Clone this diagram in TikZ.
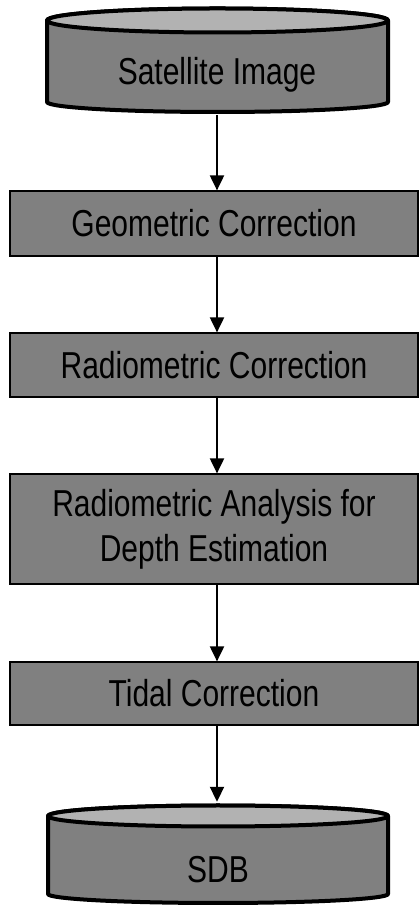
\documentclass[tikz,border=0pt]{standalone}
\usepackage{fontspec}
\setmainfont[FakeStretch=0.8]{Liberation Sans}
\usetikzlibrary{arrows.meta}
\definecolor{bodygray}{RGB}{128,128,128}
\definecolor{lidgray}{RGB}{178,178,178}

\begin{document}
\begin{tikzpicture}[x=1pt,y=1pt,
  every node/.style={font=\fontsize{37.5}{45}\selectfont,inner sep=0pt},
  stepbox/.style={draw=black,line width=1.2pt,fill=bodygray,minimum width=408pt,align=center},
  drum/.style={draw=black,line width=4pt,line join=round},
  arr/.style={line width=2pt,-{Triangle[width=14pt,length=15pt]}}]

\useasboundingbox (0,0) rectangle (419,907);

% top drum
\filldraw[drum,fill=bodygray](47,886.5)--(47,805)arc[start angle=180,end angle=360,x radius=170.5,y radius=10]--(388,886.5)arc[start angle=0,end angle=180,x radius=170.5,y radius=12]--cycle;
\draw[drum,fill=lidgray](217.5,886.5)ellipse[x radius=170.5,y radius=12];

% bottom drum
\filldraw[drum,fill=bodygray](48,91)--(48,13)arc[start angle=180,end angle=360,x radius=170,y radius=9]--(388,91)arc[start angle=0,end angle=180,x radius=170,y radius=10.5]--cycle;
\draw[drum,fill=lidgray](218,91)ellipse[x radius=170,y radius=10.5];

\node[minimum width=341pt,minimum height=80pt](sat) at (217,832) {Satellite Image};
\node[stepbox,minimum height=65pt](geo) at (214,683.5) {Geometric Correction};
\node[stepbox,minimum height=64pt](rad) at (214,542) {Radiometric Correction};
\node[stepbox,minimum height=110pt](ana) at (214,378) {Radiometric Analysis for\\Depth Estimation};
\node[stepbox,minimum height=63pt](tid) at (214,213.5) {Tidal Correction};
\node[minimum width=340pt,minimum height=136pt](sdb) at (218,37) {SDB};

\draw[arr](sat.south)--(geo.north -| sat);
\draw[arr](geo.south -| sat)--(rad.north -| sat);
\draw[arr](rad.south -| sat)--(ana.north -| sat);
\draw[arr](ana.south -| sat)--(tid.north -| sat);
\draw[arr](tid.south -| sat)--(sdb.north -| sat);
\end{tikzpicture}
\end{document}
